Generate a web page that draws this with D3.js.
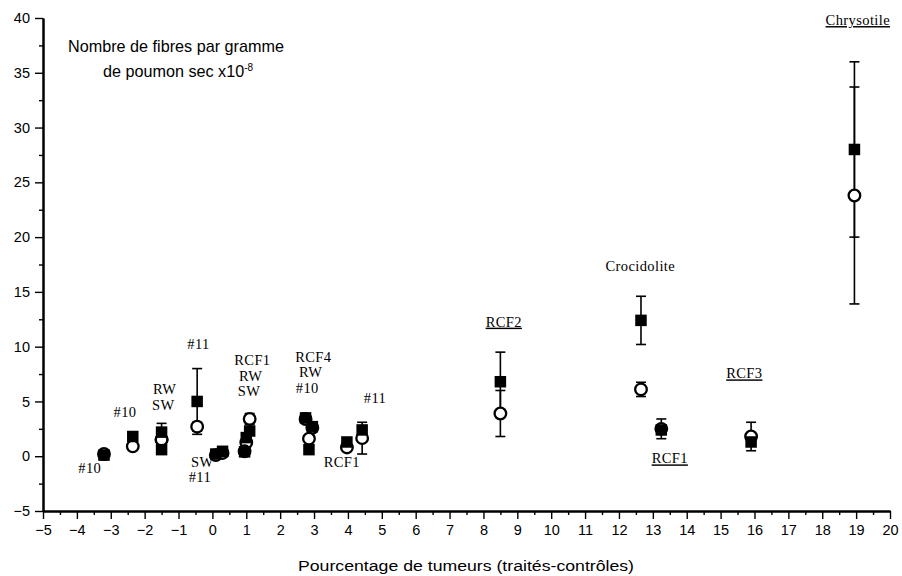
<!DOCTYPE html>
<html>
<head>
<meta charset="utf-8">
<script src="https://cdn.jsdelivr.net/npm/d3@7/dist/d3.min.js"></script>
<style>
  body { margin: 0; background: #fff; }
  svg { display: block; }
</style>
</head>
<body>
<svg id="chart" width="902" height="576"></svg>
<script>
// Excess tumour percentage (treated minus controls) for each fibre sample
const tumourPct   = [-3.2, -2.35, -1.5, -1.5, -0.45, 0.1, 0.3, 1.1, 1.0, 0.95, 2.75, 2.95, 2.85, 3.97, 4.42, 8.5, 12.65, 13.25, 15.9, 18.95];
// Fibres per gram of dry lung (x10^-8): filled squares and open circles, with their error half-widths
const squareVal   = [0.1, 1.8, 2.2, 0.6, 5.0, 0.2, 0.45, 2.3, 1.7, 0.4, 3.5, 2.7, 0.6, 1.3, 2.4, 6.8, 12.4, 2.4, 1.3, 28.0];
const squareErr   = [0, 0, 0.8, 0, 3.0, 0, 0, 0, 0, 0, 0, 0, 0, 0, 0, 2.7, 2.2, 0, 0, 8.0];
const circleVal   = [0.2, 0.9, 1.5, 1.5, 2.7, 0.1, 0.3, 3.4, 1.25, 0.45, 3.4, 2.6, 1.6, 0.8, 1.65, 3.9, 6.1, 2.5, 1.8, 23.8];
const circleErr   = [0, 0, 0, 0, 0.4, 0, 0, 0.5, 0, 0, 0, 0, 0, 0, 1.45, 2.1, 0.65, 0.9, 1.3, 9.9];

// Sample names written beside the points (position in data units)
const labelText   = ["#10", "#10", "RW", "SW", "#11", "SW", "#11", "RCF1", "RW", "SW", "RCF4", "RW", "#10", "RCF1", "#11", "RCF2", "Crocidolite", "RCF1", "RCF3", "Chrysotile"];
const labelX      = [-3.62, -2.58, -1.41, -1.45, -0.41, -0.3, -0.37, 1.18, 1.13, 1.08, 2.98, 2.9, 2.8, 3.82, 4.8, 8.6, 12.63, 13.5, 15.7, 19.05];
const labelY      = [-1.26, 3.92, 5.95, 4.52, 10.06, -0.65, -2.02, 8.6, 7.2, 5.8, 8.9, 7.5, 6.04, -0.65, 5.13, 12.13, 17.23, -0.35, 7.41, 39.66];
const labelUnder  = [false, false, false, false, false, false, false, false, false, false, false, false, false, false, false, true, false, true, true, true];

const xTicks = d3.range(-5, 21, 1);
const xMinorTicks = d3.range(-4.5, 20, 1);
const yTicks = d3.range(-5, 41, 5);
const yMinorTicks = d3.range(-2.5, 40, 5);

const svg = d3.select("#chart");
const x = d3.scaleLinear().domain([-5, 20]).range([43, 890]);
const y = d3.scaleLinear().domain([-5, 40]).range([511, 18]);

const sans = "'Liberation Sans', Arial, Helvetica, sans-serif";
const serif = "'Liberation Serif', 'Times New Roman', Times, serif";

// ---- axes ----
const xAxis = svg.append("g").attr("transform", `translate(0,${y(-5)})`)
  .call(d3.axisBottom(x).tickValues(xTicks).tickFormat(d3.format("d")).tickSize(8).tickSizeOuter(0).tickPadding(6));
const xMinor = svg.append("g").attr("transform", `translate(0,${y(-5)})`)
  .call(d3.axisBottom(x).tickValues(xMinorTicks).tickFormat("").tickSize(4).tickSizeOuter(0));
const yAxis = svg.append("g").attr("transform", `translate(${x(-5)},0)`)
  .call(d3.axisLeft(y).tickValues(yTicks).tickFormat(d3.format("d")).tickSize(8).tickSizeOuter(0).tickPadding(5));
const yMinor = svg.append("g").attr("transform", `translate(${x(-5)},0)`)
  .call(d3.axisLeft(y).tickValues(yMinorTicks).tickFormat("").tickSize(4).tickSizeOuter(0));

[xAxis, xMinor, yAxis, yMinor].forEach(g => {
  g.selectAll(".domain").attr("stroke", "#000").attr("stroke-width", 2);
  g.selectAll(".tick line").attr("stroke", "#000").attr("stroke-width", 1.4);
});
xAxis.selectAll(".tick text").attr("font-family", sans).attr("font-size", 14.5).attr("fill", "#000");
yAxis.selectAll(".tick text").attr("font-family", sans).attr("font-size", 14.5).attr("fill", "#000");

// axis titles
svg.append("text")
  .attr("x", 466).attr("y", 571)
  .attr("text-anchor", "middle")
  .attr("font-family", sans).attr("font-size", 14)
  .attr("textLength", 336).attr("lengthAdjust", "spacingAndGlyphs")
  .text("Pourcentage de tumeurs (traités-contrôles)");

const yTitle = svg.append("text")
  .attr("font-family", sans).attr("font-size", 16.2).attr("fill", "#000")
  .attr("text-anchor", "middle");
yTitle.append("tspan").attr("x", 176).attr("y", 52).text("Nombre de fibres par gramme");
const line2 = yTitle.append("tspan").attr("x", 178).attr("y", 77).text("de poumon sec x10");
line2.append("tspan").attr("font-size", 10).attr("dy", -6).text("-8");

// ---- points ----
const pts = tumourPct.map((p, i) => ({
  p, sq: squareVal[i], sqE: squareErr[i], ci: circleVal[i], ciE: circleErr[i]
}));

const bars = svg.append("g").attr("stroke", "#000").attr("stroke-width", 1.6);
function errorBar(px, v, e) {
  if (!e) return;
  const cx = x(px), capW = 5;
  bars.append("line").attr("x1", cx).attr("x2", cx).attr("y1", y(v - e)).attr("y2", y(v + e));
  [v - e, v + e].forEach(t => {
    bars.append("line").attr("x1", cx - capW).attr("x2", cx + capW).attr("y1", y(t)).attr("y2", y(t));
  });
}
pts.forEach(d => { errorBar(d.p, d.sq, d.sqE); errorBar(d.p, d.ci, d.ciE); });

svg.append("g").selectAll("circle").data(pts).join("circle")
  .attr("cx", d => x(d.p)).attr("cy", d => y(d.ci)).attr("r", 5.8)
  .attr("fill", "#fff").attr("stroke", "#000").attr("stroke-width", 2.3);

const s = 11.5;
svg.append("g").selectAll("rect").data(pts).join("rect")
  .attr("x", d => x(d.p) - s / 2).attr("y", d => y(d.sq) - s / 2)
  .attr("width", s).attr("height", s).attr("fill", "#000");

// ---- sample labels ----
svg.append("g").selectAll("text").data(labelText).join("text")
  .attr("x", (t, i) => x(labelX[i])).attr("y", (t, i) => y(labelY[i]))
  .attr("text-anchor", "middle").attr("dominant-baseline", "middle")
  .attr("font-family", serif).attr("font-size", 14.5).attr("letter-spacing", 0.4).attr("fill", "#000")
  .style("text-decoration", (t, i) => labelUnder[i] ? "underline" : "none")
  .text(t => t);
</script>
</body>
</html>
